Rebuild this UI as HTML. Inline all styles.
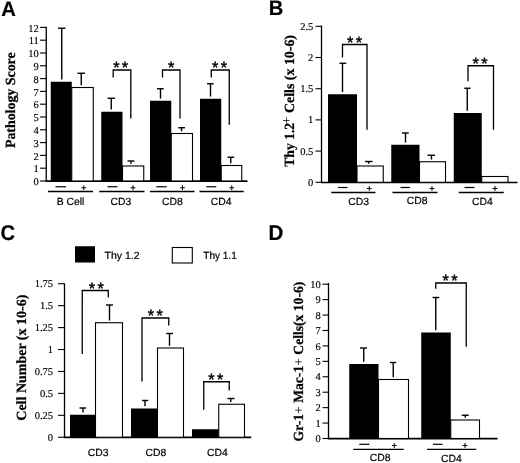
<!DOCTYPE html>
<html><head><meta charset="utf-8"><title>Figure</title>
<style>html,body{margin:0;padding:0;background:#fff}svg{display:block;filter:grayscale(1)}text{text-rendering:geometricPrecision}</style></head>
<body>
<svg width="520" height="463" viewBox="0 0 520 463">
<rect width="520" height="463" fill="#fff"/>
<text x="1.3" y="15.8" font-family="Liberation Sans,Arial,sans-serif" font-size="20.9" font-weight="bold" text-anchor="start" stroke="#000" stroke-width="0.2" textLength="14.6" lengthAdjust="spacingAndGlyphs">A</text>
<line x1="46.25" y1="26.8" x2="46.25" y2="181.6" stroke="#000" stroke-width="1.3"/>
<line x1="45.65" y1="181.15" x2="247.5" y2="181.15" stroke="#000" stroke-width="1.6"/>
<line x1="40" y1="181.0" x2="46.25" y2="181.0" stroke="#000" stroke-width="1.1"/>
<text x="38.8" y="185.1" font-family="Liberation Serif,Times New Roman,serif" font-size="10.5" text-anchor="end" stroke="#000" stroke-width="0.15">0</text>
<line x1="40" y1="168.2" x2="46.25" y2="168.2" stroke="#000" stroke-width="1.1"/>
<text x="38.8" y="172.29999999999998" font-family="Liberation Serif,Times New Roman,serif" font-size="10.5" text-anchor="end" stroke="#000" stroke-width="0.15">1</text>
<line x1="40" y1="155.4" x2="46.25" y2="155.4" stroke="#000" stroke-width="1.1"/>
<text x="38.8" y="159.5" font-family="Liberation Serif,Times New Roman,serif" font-size="10.5" text-anchor="end" stroke="#000" stroke-width="0.15">2</text>
<line x1="40" y1="142.6" x2="46.25" y2="142.6" stroke="#000" stroke-width="1.1"/>
<text x="38.8" y="146.7" font-family="Liberation Serif,Times New Roman,serif" font-size="10.5" text-anchor="end" stroke="#000" stroke-width="0.15">3</text>
<line x1="40" y1="129.8" x2="46.25" y2="129.8" stroke="#000" stroke-width="1.1"/>
<text x="38.8" y="133.9" font-family="Liberation Serif,Times New Roman,serif" font-size="10.5" text-anchor="end" stroke="#000" stroke-width="0.15">4</text>
<line x1="40" y1="117.0" x2="46.25" y2="117.0" stroke="#000" stroke-width="1.1"/>
<text x="38.8" y="121.1" font-family="Liberation Serif,Times New Roman,serif" font-size="10.5" text-anchor="end" stroke="#000" stroke-width="0.15">5</text>
<line x1="40" y1="104.19999999999999" x2="46.25" y2="104.19999999999999" stroke="#000" stroke-width="1.1"/>
<text x="38.8" y="108.29999999999998" font-family="Liberation Serif,Times New Roman,serif" font-size="10.5" text-anchor="end" stroke="#000" stroke-width="0.15">6</text>
<line x1="40" y1="91.39999999999999" x2="46.25" y2="91.39999999999999" stroke="#000" stroke-width="1.1"/>
<text x="38.8" y="95.49999999999999" font-family="Liberation Serif,Times New Roman,serif" font-size="10.5" text-anchor="end" stroke="#000" stroke-width="0.15">7</text>
<line x1="40" y1="78.6" x2="46.25" y2="78.6" stroke="#000" stroke-width="1.1"/>
<text x="38.8" y="82.69999999999999" font-family="Liberation Serif,Times New Roman,serif" font-size="10.5" text-anchor="end" stroke="#000" stroke-width="0.15">8</text>
<line x1="40" y1="65.8" x2="46.25" y2="65.8" stroke="#000" stroke-width="1.1"/>
<text x="38.8" y="69.89999999999999" font-family="Liberation Serif,Times New Roman,serif" font-size="10.5" text-anchor="end" stroke="#000" stroke-width="0.15">9</text>
<line x1="40" y1="53.0" x2="46.25" y2="53.0" stroke="#000" stroke-width="1.1"/>
<text x="38.8" y="57.1" font-family="Liberation Serif,Times New Roman,serif" font-size="10.5" text-anchor="end" stroke="#000" stroke-width="0.15">10</text>
<line x1="40" y1="40.19999999999999" x2="46.25" y2="40.19999999999999" stroke="#000" stroke-width="1.1"/>
<text x="38.8" y="44.29999999999999" font-family="Liberation Serif,Times New Roman,serif" font-size="10.5" text-anchor="end" stroke="#000" stroke-width="0.15">11</text>
<line x1="40" y1="27.399999999999977" x2="46.25" y2="27.399999999999977" stroke="#000" stroke-width="1.1"/>
<text x="38.8" y="31.49999999999998" font-family="Liberation Serif,Times New Roman,serif" font-size="10.5" text-anchor="end" stroke="#000" stroke-width="0.15">12</text>
<rect x="50.75" y="81.75" width="21.00" height="99.25" fill="#000"/>
<line x1="58" y1="28.25" x2="65.5" y2="28.25" stroke="#000" stroke-width="1.4"/>
<line x1="61.75" y1="28.25" x2="61.75" y2="79.55" stroke="#000" stroke-width="1.4"/>
<rect x="71.75" y="87.5" width="21.50" height="93.50" fill="#fff" stroke="#000" stroke-width="1.1"/>
<line x1="77.5" y1="73.25" x2="85" y2="73.25" stroke="#000" stroke-width="1.4"/>
<line x1="81.25" y1="73.25" x2="81.25" y2="85.3" stroke="#000" stroke-width="1.4"/>
<rect x="101.25" y="111.75" width="21.25" height="69.25" fill="#000"/>
<line x1="107.5" y1="98.25" x2="115" y2="98.25" stroke="#000" stroke-width="1.4"/>
<line x1="111.25" y1="98.25" x2="111.25" y2="109.55" stroke="#000" stroke-width="1.4"/>
<rect x="122.5" y="166" width="21.25" height="15.00" fill="#fff" stroke="#000" stroke-width="1.1"/>
<line x1="127.5" y1="161" x2="134.5" y2="161" stroke="#000" stroke-width="1.4"/>
<line x1="131" y1="161" x2="131" y2="163.8" stroke="#000" stroke-width="1.4"/>
<rect x="150" y="100.75" width="21.25" height="80.25" fill="#000"/>
<line x1="157" y1="88.75" x2="163.75" y2="88.75" stroke="#000" stroke-width="1.4"/>
<line x1="160.5" y1="88.75" x2="160.5" y2="98.55" stroke="#000" stroke-width="1.4"/>
<rect x="171.25" y="133.5" width="21.25" height="47.50" fill="#fff" stroke="#000" stroke-width="1.1"/>
<line x1="178.25" y1="127.75" x2="185" y2="127.75" stroke="#000" stroke-width="1.4"/>
<line x1="181.5" y1="127.75" x2="181.5" y2="131.3" stroke="#000" stroke-width="1.4"/>
<rect x="200" y="98.75" width="21.25" height="82.25" fill="#000"/>
<line x1="207" y1="83.75" x2="213.75" y2="83.75" stroke="#000" stroke-width="1.4"/>
<line x1="210.5" y1="83.75" x2="210.5" y2="96.55" stroke="#000" stroke-width="1.4"/>
<rect x="221.25" y="165.5" width="20.50" height="15.50" fill="#fff" stroke="#000" stroke-width="1.1"/>
<line x1="227.5" y1="157.25" x2="234.25" y2="157.25" stroke="#000" stroke-width="1.4"/>
<line x1="230.75" y1="157.25" x2="230.75" y2="163.3" stroke="#000" stroke-width="1.4"/>
<polyline points="113.2,77.5 113.2,70 130.8,70 130.8,118.5" fill="none" stroke="#000" stroke-width="1.3"/>
<text x="113.20" y="73.28" font-family="Liberation Sans,Arial,sans-serif" font-size="16.3" stroke="#000" stroke-width="0.45">*</text>
<text x="121.80" y="73.28" font-family="Liberation Sans,Arial,sans-serif" font-size="16.3" stroke="#000" stroke-width="0.45">*</text>
<polyline points="162.5,77.5 162.5,70 180,70 180,118.5" fill="none" stroke="#000" stroke-width="1.3"/>
<text x="167.90" y="73.28" font-family="Liberation Sans,Arial,sans-serif" font-size="16.3" stroke="#000" stroke-width="0.45">*</text>
<polyline points="211.25,77.5 211.25,70 229.25,70 229.25,124.75" fill="none" stroke="#000" stroke-width="1.3"/>
<text x="212.10" y="73.28" font-family="Liberation Sans,Arial,sans-serif" font-size="16.3" stroke="#000" stroke-width="0.45">*</text>
<text x="220.70" y="73.28" font-family="Liberation Sans,Arial,sans-serif" font-size="16.3" stroke="#000" stroke-width="0.45">*</text>
<line x1="55.5" y1="186.75" x2="66" y2="186.75" stroke="#000" stroke-width="1.2"/>
<line x1="81.35" y1="187.75" x2="86.15" y2="187.75" stroke="#000" stroke-width="1"/>
<line x1="83.75" y1="185.35" x2="83.75" y2="190.15" stroke="#000" stroke-width="1"/>
<line x1="48" y1="191.5" x2="93" y2="191.5" stroke="#000" stroke-width="1.3"/>
<text x="70.5" y="204.75" font-family="Liberation Sans,Arial,sans-serif" font-size="10.4" font-weight="normal" text-anchor="middle" stroke="#000" stroke-width="0.2">B Cell</text>
<line x1="107.5" y1="186.75" x2="117.5" y2="186.75" stroke="#000" stroke-width="1.2"/>
<line x1="130.6" y1="187.75" x2="135.4" y2="187.75" stroke="#000" stroke-width="1"/>
<line x1="133" y1="185.35" x2="133" y2="190.15" stroke="#000" stroke-width="1"/>
<line x1="99.25" y1="191.5" x2="144.5" y2="191.5" stroke="#000" stroke-width="1.3"/>
<text x="121" y="204.75" font-family="Liberation Sans,Arial,sans-serif" font-size="10.4" font-weight="normal" text-anchor="middle" stroke="#000" stroke-width="0.2">CD3</text>
<line x1="156.25" y1="186.75" x2="166.75" y2="186.75" stroke="#000" stroke-width="1.2"/>
<line x1="180.1" y1="187.75" x2="184.9" y2="187.75" stroke="#000" stroke-width="1"/>
<line x1="182.5" y1="185.35" x2="182.5" y2="190.15" stroke="#000" stroke-width="1"/>
<line x1="150" y1="191.5" x2="194.5" y2="191.5" stroke="#000" stroke-width="1.3"/>
<text x="172.5" y="204.75" font-family="Liberation Sans,Arial,sans-serif" font-size="10.4" font-weight="normal" text-anchor="middle" stroke="#000" stroke-width="0.2">CD8</text>
<line x1="206.25" y1="186.75" x2="216.25" y2="186.75" stroke="#000" stroke-width="1.2"/>
<line x1="229.35" y1="187.75" x2="234.15" y2="187.75" stroke="#000" stroke-width="1"/>
<line x1="231.75" y1="185.35" x2="231.75" y2="190.15" stroke="#000" stroke-width="1"/>
<line x1="199.5" y1="191.5" x2="243.75" y2="191.5" stroke="#000" stroke-width="1.3"/>
<text x="221.25" y="204.75" font-family="Liberation Sans,Arial,sans-serif" font-size="10.4" font-weight="normal" text-anchor="middle" stroke="#000" stroke-width="0.2">CD4</text>
<text transform="translate(15,148.1) rotate(-90)" font-family="Liberation Serif,Times New Roman,serif" font-weight="bold" stroke="#000" stroke-width="0.25" font-size="14" textLength="95.8" lengthAdjust="spacingAndGlyphs">Pathology Score</text>
<text x="268.7" y="14.9" font-family="Liberation Sans,Arial,sans-serif" font-size="20.9" font-weight="bold" text-anchor="start" stroke="#000" stroke-width="0.2" textLength="14.5" lengthAdjust="spacingAndGlyphs">B</text>
<line x1="321.5" y1="25.5" x2="321.5" y2="182.9" stroke="#000" stroke-width="1.3"/>
<line x1="320.9" y1="182.45000000000002" x2="517.5" y2="182.45000000000002" stroke="#000" stroke-width="1.6"/>
<line x1="315.5" y1="182.3" x2="321.5" y2="182.3" stroke="#000" stroke-width="1.1"/>
<text x="313.3" y="185.8" font-family="Liberation Serif,Times New Roman,serif" font-size="10.5" text-anchor="end" stroke="#000" stroke-width="0.15">0</text>
<line x1="315.5" y1="151.10000000000002" x2="321.5" y2="151.10000000000002" stroke="#000" stroke-width="1.1"/>
<text x="313.3" y="154.60000000000002" font-family="Liberation Serif,Times New Roman,serif" font-size="10.5" text-anchor="end" stroke="#000" stroke-width="0.15">0.5</text>
<line x1="315.5" y1="119.9" x2="321.5" y2="119.9" stroke="#000" stroke-width="1.1"/>
<text x="313.3" y="123.4" font-family="Liberation Serif,Times New Roman,serif" font-size="10.5" text-anchor="end" stroke="#000" stroke-width="0.15">1</text>
<line x1="315.5" y1="88.70000000000002" x2="321.5" y2="88.70000000000002" stroke="#000" stroke-width="1.1"/>
<text x="313.3" y="92.20000000000002" font-family="Liberation Serif,Times New Roman,serif" font-size="10.5" text-anchor="end" stroke="#000" stroke-width="0.15">1.5</text>
<line x1="315.5" y1="57.500000000000014" x2="321.5" y2="57.500000000000014" stroke="#000" stroke-width="1.1"/>
<text x="313.3" y="61.000000000000014" font-family="Liberation Serif,Times New Roman,serif" font-size="10.5" text-anchor="end" stroke="#000" stroke-width="0.15">2</text>
<line x1="315.5" y1="26.30000000000001" x2="321.5" y2="26.30000000000001" stroke="#000" stroke-width="1.1"/>
<text x="313.3" y="29.80000000000001" font-family="Liberation Serif,Times New Roman,serif" font-size="10.5" text-anchor="end" stroke="#000" stroke-width="0.15">2.5</text>
<rect x="328" y="94.25" width="29.00" height="88.05" fill="#000"/>
<line x1="339.5" y1="63.25" x2="346.25" y2="63.25" stroke="#000" stroke-width="1.4"/>
<line x1="342.5" y1="63.25" x2="342.5" y2="92.05" stroke="#000" stroke-width="1.4"/>
<rect x="357" y="166" width="26.25" height="16.30" fill="#fff" stroke="#000" stroke-width="1.1"/>
<line x1="365" y1="161.5" x2="372.5" y2="161.5" stroke="#000" stroke-width="1.4"/>
<line x1="368.75" y1="161.5" x2="368.75" y2="163.8" stroke="#000" stroke-width="1.4"/>
<rect x="391.25" y="144.75" width="28.25" height="37.55" fill="#000"/>
<line x1="402" y1="133" x2="408.75" y2="133" stroke="#000" stroke-width="1.4"/>
<line x1="405.5" y1="133" x2="405.5" y2="142.55" stroke="#000" stroke-width="1.4"/>
<rect x="419.5" y="161.75" width="26.00" height="20.55" fill="#fff" stroke="#000" stroke-width="1.1"/>
<line x1="427.5" y1="155.25" x2="435" y2="155.25" stroke="#000" stroke-width="1.4"/>
<line x1="431.5" y1="155.25" x2="431.5" y2="159.55" stroke="#000" stroke-width="1.4"/>
<rect x="453.75" y="113" width="28.00" height="69.30" fill="#000"/>
<line x1="464.25" y1="88.25" x2="470.5" y2="88.25" stroke="#000" stroke-width="1.4"/>
<line x1="467.25" y1="88.25" x2="467.25" y2="110.8" stroke="#000" stroke-width="1.4"/>
<rect x="481.75" y="176.5" width="26.25" height="5.80" fill="#fff" stroke="#000" stroke-width="1.1"/>
<polyline points="342.5,57.5 342.5,44.5 367,44.5 367,129.75" fill="none" stroke="#000" stroke-width="1.3"/>
<text x="347.10" y="47.78" font-family="Liberation Sans,Arial,sans-serif" font-size="16.3" stroke="#000" stroke-width="0.45">*</text>
<text x="355.70" y="47.78" font-family="Liberation Sans,Arial,sans-serif" font-size="16.3" stroke="#000" stroke-width="0.45">*</text>
<polyline points="468,81.25 468,65.75 493.5,65.75 493.5,129.75" fill="none" stroke="#000" stroke-width="1.3"/>
<text x="472.60" y="69.03" font-family="Liberation Sans,Arial,sans-serif" font-size="16.3" stroke="#000" stroke-width="0.45">*</text>
<text x="481.20" y="69.03" font-family="Liberation Sans,Arial,sans-serif" font-size="16.3" stroke="#000" stroke-width="0.45">*</text>
<line x1="338" y1="187.5" x2="347.5" y2="187.5" stroke="#000" stroke-width="1.2"/>
<line x1="366.85" y1="188.5" x2="371.65" y2="188.5" stroke="#000" stroke-width="1"/>
<line x1="369.25" y1="186.1" x2="369.25" y2="190.9" stroke="#000" stroke-width="1"/>
<line x1="331.25" y1="192.5" x2="375.5" y2="192.5" stroke="#000" stroke-width="1.3"/>
<text x="358.75" y="204.75" font-family="Liberation Sans,Arial,sans-serif" font-size="10.4" font-weight="normal" text-anchor="middle" stroke="#000" stroke-width="0.2">CD3</text>
<line x1="400.5" y1="187.5" x2="410" y2="187.5" stroke="#000" stroke-width="1.2"/>
<line x1="429.6" y1="188.5" x2="434.4" y2="188.5" stroke="#000" stroke-width="1"/>
<line x1="432" y1="186.1" x2="432" y2="190.9" stroke="#000" stroke-width="1"/>
<line x1="392.5" y1="192.5" x2="437.5" y2="192.5" stroke="#000" stroke-width="1.3"/>
<text x="417.25" y="204.25" font-family="Liberation Sans,Arial,sans-serif" font-size="10.4" font-weight="normal" text-anchor="middle" stroke="#000" stroke-width="0.2">CD8</text>
<line x1="464.5" y1="187.5" x2="474.5" y2="187.5" stroke="#000" stroke-width="1.2"/>
<line x1="492.6" y1="188.5" x2="497.4" y2="188.5" stroke="#000" stroke-width="1"/>
<line x1="495" y1="186.1" x2="495" y2="190.9" stroke="#000" stroke-width="1"/>
<line x1="458.75" y1="192.5" x2="503.75" y2="192.5" stroke="#000" stroke-width="1.3"/>
<text x="482.5" y="205.25" font-family="Liberation Sans,Arial,sans-serif" font-size="10.4" font-weight="normal" text-anchor="middle" stroke="#000" stroke-width="0.2">CD4</text>
<text transform="translate(293.5,166.8) rotate(-90)" font-family="Liberation Serif,Times New Roman,serif" font-weight="bold" stroke="#000" stroke-width="0.25" font-size="14" textLength="44" lengthAdjust="spacingAndGlyphs">Thy 1.2</text>
<text transform="translate(291.4,124.6) rotate(-90)" font-family="Liberation Serif,Times New Roman,serif" font-size="14">+</text>
<text transform="translate(293.5,113) rotate(-90)" font-family="Liberation Serif,Times New Roman,serif" font-weight="bold" stroke="#000" stroke-width="0.25" font-size="14" textLength="78" lengthAdjust="spacingAndGlyphs">Cells (x 10-6)</text>
<text x="0.4" y="240.2" font-family="Liberation Sans,Arial,sans-serif" font-size="21.3" font-weight="bold" text-anchor="start" stroke="#000" stroke-width="0.2" textLength="14.6" lengthAdjust="spacingAndGlyphs">C</text>
<line x1="64.5" y1="283.5" x2="64.5" y2="437.85" stroke="#000" stroke-width="1.3"/>
<line x1="63.9" y1="437.4" x2="251.25" y2="437.4" stroke="#000" stroke-width="1.6"/>
<line x1="58" y1="437.25" x2="64.5" y2="437.25" stroke="#000" stroke-width="1.1"/>
<text x="53" y="440.65" font-family="Liberation Serif,Times New Roman,serif" font-size="10.5" text-anchor="end" stroke="#000" stroke-width="0.15">0</text>
<line x1="58" y1="415.32" x2="64.5" y2="415.32" stroke="#000" stroke-width="1.1"/>
<text x="53" y="418.71999999999997" font-family="Liberation Serif,Times New Roman,serif" font-size="10.5" text-anchor="end" stroke="#000" stroke-width="0.15">0.25</text>
<line x1="58" y1="393.39" x2="64.5" y2="393.39" stroke="#000" stroke-width="1.1"/>
<text x="53" y="396.78999999999996" font-family="Liberation Serif,Times New Roman,serif" font-size="10.5" text-anchor="end" stroke="#000" stroke-width="0.15">0.5</text>
<line x1="58" y1="371.46000000000004" x2="64.5" y2="371.46000000000004" stroke="#000" stroke-width="1.1"/>
<text x="53" y="374.86" font-family="Liberation Serif,Times New Roman,serif" font-size="10.5" text-anchor="end" stroke="#000" stroke-width="0.15">0.75</text>
<line x1="58" y1="349.53" x2="64.5" y2="349.53" stroke="#000" stroke-width="1.1"/>
<text x="53" y="352.92999999999995" font-family="Liberation Serif,Times New Roman,serif" font-size="10.5" text-anchor="end" stroke="#000" stroke-width="0.15">1</text>
<line x1="58" y1="327.6" x2="64.5" y2="327.6" stroke="#000" stroke-width="1.1"/>
<text x="53" y="331.0" font-family="Liberation Serif,Times New Roman,serif" font-size="10.5" text-anchor="end" stroke="#000" stroke-width="0.15">1.25</text>
<line x1="58" y1="305.67" x2="64.5" y2="305.67" stroke="#000" stroke-width="1.1"/>
<text x="53" y="309.07" font-family="Liberation Serif,Times New Roman,serif" font-size="10.5" text-anchor="end" stroke="#000" stroke-width="0.15">1.5</text>
<line x1="58" y1="283.74" x2="64.5" y2="283.74" stroke="#000" stroke-width="1.1"/>
<text x="53" y="287.14" font-family="Liberation Serif,Times New Roman,serif" font-size="10.5" text-anchor="end" stroke="#000" stroke-width="0.15">1.75</text>
<rect x="70" y="414.75" width="25.50" height="22.50" fill="#000"/>
<line x1="79.5" y1="408" x2="86.25" y2="408" stroke="#000" stroke-width="1.4"/>
<line x1="83" y1="408" x2="83" y2="412.55" stroke="#000" stroke-width="1.4"/>
<rect x="95.5" y="322.75" width="27.00" height="114.50" fill="#fff" stroke="#000" stroke-width="1.1"/>
<line x1="106" y1="305" x2="113" y2="305" stroke="#000" stroke-width="1.4"/>
<line x1="109.5" y1="305" x2="109.5" y2="320.55" stroke="#000" stroke-width="1.4"/>
<rect x="131" y="408.5" width="26.50" height="28.75" fill="#000"/>
<line x1="142" y1="400.5" x2="148.25" y2="400.5" stroke="#000" stroke-width="1.4"/>
<line x1="145" y1="400.5" x2="145" y2="406.3" stroke="#000" stroke-width="1.4"/>
<rect x="157.5" y="348" width="26.00" height="89.25" fill="#fff" stroke="#000" stroke-width="1.1"/>
<line x1="166.25" y1="333.5" x2="173" y2="333.5" stroke="#000" stroke-width="1.4"/>
<line x1="169.5" y1="333.5" x2="169.5" y2="345.8" stroke="#000" stroke-width="1.4"/>
<rect x="192" y="429.25" width="26.75" height="8.00" fill="#000"/>
<rect x="218.75" y="404.25" width="25.75" height="33.00" fill="#fff" stroke="#000" stroke-width="1.1"/>
<line x1="227.5" y1="398.5" x2="234.5" y2="398.5" stroke="#000" stroke-width="1.4"/>
<line x1="230.75" y1="398.5" x2="230.75" y2="402.05" stroke="#000" stroke-width="1.4"/>
<polyline points="82.25,354 82.25,290.5 108.25,290.5 108.25,297.5" fill="none" stroke="#000" stroke-width="1.3"/>
<text x="88.85" y="293.78" font-family="Liberation Sans,Arial,sans-serif" font-size="16.3" stroke="#000" stroke-width="0.45">*</text>
<text x="97.45" y="293.78" font-family="Liberation Sans,Arial,sans-serif" font-size="16.3" stroke="#000" stroke-width="0.45">*</text>
<polyline points="142,381.5 142,318 168.75,318 168.75,325.5" fill="none" stroke="#000" stroke-width="1.3"/>
<text x="147.85" y="321.28" font-family="Liberation Sans,Arial,sans-serif" font-size="16.3" stroke="#000" stroke-width="0.45">*</text>
<text x="156.45" y="321.28" font-family="Liberation Sans,Arial,sans-serif" font-size="16.3" stroke="#000" stroke-width="0.45">*</text>
<polyline points="203.75,409.75 203.75,381.75 229.25,381.75 229.25,390.5" fill="none" stroke="#000" stroke-width="1.3"/>
<text x="208.35" y="385.03" font-family="Liberation Sans,Arial,sans-serif" font-size="16.3" stroke="#000" stroke-width="0.45">*</text>
<text x="216.95" y="385.03" font-family="Liberation Sans,Arial,sans-serif" font-size="16.3" stroke="#000" stroke-width="0.45">*</text>
<text x="98.25" y="455.6" font-family="Liberation Sans,Arial,sans-serif" font-size="10.4" font-weight="normal" text-anchor="middle" stroke="#000" stroke-width="0.2">CD3</text>
<text x="156" y="455.6" font-family="Liberation Sans,Arial,sans-serif" font-size="10.4" font-weight="normal" text-anchor="middle" stroke="#000" stroke-width="0.2">CD8</text>
<text x="217.4" y="455.6" font-family="Liberation Sans,Arial,sans-serif" font-size="10.4" font-weight="normal" text-anchor="middle" stroke="#000" stroke-width="0.2">CD4</text>
<rect x="75" y="246.25" width="20" height="16.25" fill="#000"/>
<text x="104.5" y="259.25" font-family="Liberation Sans,Arial,sans-serif" font-size="10.4" font-weight="normal" text-anchor="start" stroke="#000" stroke-width="0.2" textLength="35" lengthAdjust="spacingAndGlyphs">Thy 1.2</text>
<rect x="172.3" y="247.5" width="20" height="15.5" fill="#fff" stroke="#000" stroke-width="1.1"/>
<text x="203.25" y="259.25" font-family="Liberation Sans,Arial,sans-serif" font-size="10.4" font-weight="normal" text-anchor="start" stroke="#000" stroke-width="0.2" textLength="33.5" lengthAdjust="spacingAndGlyphs">Thy 1.1</text>
<text transform="translate(26,420.7) rotate(-90)" font-family="Liberation Serif,Times New Roman,serif" font-weight="bold" stroke="#000" stroke-width="0.25" font-size="14" textLength="126" lengthAdjust="spacingAndGlyphs">Cell Number (x 10-6)</text>
<text x="268.6" y="239.7" font-family="Liberation Sans,Arial,sans-serif" font-size="21.3" font-weight="bold" text-anchor="start" stroke="#000" stroke-width="0.2" textLength="14.8" lengthAdjust="spacingAndGlyphs">D</text>
<line x1="328.5" y1="283.0" x2="328.5" y2="439.1" stroke="#000" stroke-width="1.3"/>
<line x1="327.9" y1="438.65" x2="497.5" y2="438.65" stroke="#000" stroke-width="1.6"/>
<line x1="322.5" y1="438.5" x2="328.5" y2="438.5" stroke="#000" stroke-width="1.1"/>
<text x="320.75" y="442.1" font-family="Liberation Serif,Times New Roman,serif" font-size="10.5" text-anchor="end" stroke="#000" stroke-width="0.15">0</text>
<line x1="322.5" y1="423.07" x2="328.5" y2="423.07" stroke="#000" stroke-width="1.1"/>
<text x="320.75" y="426.67" font-family="Liberation Serif,Times New Roman,serif" font-size="10.5" text-anchor="end" stroke="#000" stroke-width="0.15">1</text>
<line x1="322.5" y1="407.64" x2="328.5" y2="407.64" stroke="#000" stroke-width="1.1"/>
<text x="320.75" y="411.24" font-family="Liberation Serif,Times New Roman,serif" font-size="10.5" text-anchor="end" stroke="#000" stroke-width="0.15">2</text>
<line x1="322.5" y1="392.21" x2="328.5" y2="392.21" stroke="#000" stroke-width="1.1"/>
<text x="320.75" y="395.81" font-family="Liberation Serif,Times New Roman,serif" font-size="10.5" text-anchor="end" stroke="#000" stroke-width="0.15">3</text>
<line x1="322.5" y1="376.78" x2="328.5" y2="376.78" stroke="#000" stroke-width="1.1"/>
<text x="320.75" y="380.38" font-family="Liberation Serif,Times New Roman,serif" font-size="10.5" text-anchor="end" stroke="#000" stroke-width="0.15">4</text>
<line x1="322.5" y1="361.35" x2="328.5" y2="361.35" stroke="#000" stroke-width="1.1"/>
<text x="320.75" y="364.95000000000005" font-family="Liberation Serif,Times New Roman,serif" font-size="10.5" text-anchor="end" stroke="#000" stroke-width="0.15">5</text>
<line x1="322.5" y1="345.92" x2="328.5" y2="345.92" stroke="#000" stroke-width="1.1"/>
<text x="320.75" y="349.52000000000004" font-family="Liberation Serif,Times New Roman,serif" font-size="10.5" text-anchor="end" stroke="#000" stroke-width="0.15">6</text>
<line x1="322.5" y1="330.49" x2="328.5" y2="330.49" stroke="#000" stroke-width="1.1"/>
<text x="320.75" y="334.09000000000003" font-family="Liberation Serif,Times New Roman,serif" font-size="10.5" text-anchor="end" stroke="#000" stroke-width="0.15">7</text>
<line x1="322.5" y1="315.06" x2="328.5" y2="315.06" stroke="#000" stroke-width="1.1"/>
<text x="320.75" y="318.66" font-family="Liberation Serif,Times New Roman,serif" font-size="10.5" text-anchor="end" stroke="#000" stroke-width="0.15">8</text>
<line x1="322.5" y1="299.63" x2="328.5" y2="299.63" stroke="#000" stroke-width="1.1"/>
<text x="320.75" y="303.23" font-family="Liberation Serif,Times New Roman,serif" font-size="10.5" text-anchor="end" stroke="#000" stroke-width="0.15">9</text>
<line x1="322.5" y1="284.2" x2="328.5" y2="284.2" stroke="#000" stroke-width="1.1"/>
<text x="320.75" y="287.8" font-family="Liberation Serif,Times New Roman,serif" font-size="10.5" text-anchor="end" stroke="#000" stroke-width="0.15">10</text>
<rect x="349.25" y="364" width="29.25" height="74.50" fill="#000"/>
<line x1="360" y1="348" x2="367" y2="348" stroke="#000" stroke-width="1.4"/>
<line x1="363.75" y1="348" x2="363.75" y2="361.8" stroke="#000" stroke-width="1.4"/>
<rect x="378.5" y="379.5" width="30.00" height="59.00" fill="#fff" stroke="#000" stroke-width="1.1"/>
<line x1="390" y1="362.5" x2="396.25" y2="362.5" stroke="#000" stroke-width="1.4"/>
<line x1="393.25" y1="362.5" x2="393.25" y2="377.3" stroke="#000" stroke-width="1.4"/>
<rect x="421.25" y="332.5" width="29.50" height="106.00" fill="#000"/>
<line x1="432.5" y1="297.5" x2="439.25" y2="297.5" stroke="#000" stroke-width="1.4"/>
<line x1="435.75" y1="297.5" x2="435.75" y2="330.3" stroke="#000" stroke-width="1.4"/>
<rect x="450.75" y="420" width="28.75" height="18.50" fill="#fff" stroke="#000" stroke-width="1.1"/>
<line x1="461.75" y1="415.25" x2="468.75" y2="415.25" stroke="#000" stroke-width="1.4"/>
<line x1="465.25" y1="415.25" x2="465.25" y2="417.8" stroke="#000" stroke-width="1.4"/>
<polyline points="435.75,288.75 435.75,283 466.25,283 466.25,346.75" fill="none" stroke="#000" stroke-width="1.3"/>
<text x="442.60" y="286.28" font-family="Liberation Sans,Arial,sans-serif" font-size="16.3" stroke="#000" stroke-width="0.45">*</text>
<text x="451.20" y="286.28" font-family="Liberation Sans,Arial,sans-serif" font-size="16.3" stroke="#000" stroke-width="0.45">*</text>
<line x1="359.25" y1="444.3" x2="369.5" y2="444.3" stroke="#000" stroke-width="1.2"/>
<line x1="391.85" y1="445.5" x2="396.65" y2="445.5" stroke="#000" stroke-width="1"/>
<line x1="394.25" y1="443.1" x2="394.25" y2="447.9" stroke="#000" stroke-width="1"/>
<line x1="353.25" y1="449.4" x2="403.75" y2="449.4" stroke="#000" stroke-width="1.3"/>
<text x="380.25" y="461" font-family="Liberation Sans,Arial,sans-serif" font-size="10.4" font-weight="normal" text-anchor="middle" stroke="#000" stroke-width="0.2">CD8</text>
<line x1="433" y1="444.3" x2="442.5" y2="444.3" stroke="#000" stroke-width="1.2"/>
<line x1="462.6" y1="445.5" x2="467.4" y2="445.5" stroke="#000" stroke-width="1"/>
<line x1="465" y1="443.1" x2="465" y2="447.9" stroke="#000" stroke-width="1"/>
<line x1="427" y1="449.4" x2="476.25" y2="449.4" stroke="#000" stroke-width="1.3"/>
<text x="451.5" y="462.3" font-family="Liberation Sans,Arial,sans-serif" font-size="10.4" font-weight="normal" text-anchor="middle" stroke="#000" stroke-width="0.2">CD4</text>
<text transform="translate(302.6,441.4) rotate(-90)" font-family="Liberation Serif,Times New Roman,serif" font-weight="bold" stroke="#000" stroke-width="0.25" font-size="14" textLength="159.7" lengthAdjust="spacingAndGlyphs">Gr-1<tspan font-weight="normal" stroke="none">+</tspan> Mac-1<tspan font-weight="normal" stroke="none">+</tspan> Cells(x 10-6)</text>
</svg>
</body></html>
